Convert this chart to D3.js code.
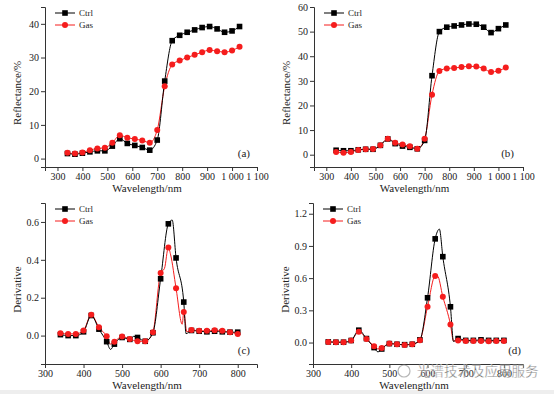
<!DOCTYPE html>
<html>
<head>
<meta charset="utf-8">
<script src="https://cdn.jsdelivr.net/npm/d3@7"></script>
<style>
  body { margin: 0; background: #fff; }
  svg { display: block; }
  text { font-family: "Liberation Serif", "DejaVu Serif", serif; fill: #222; }
</style>
</head>
<body>
<div id="chart"></div>
<script>
// reflectance spectra, markers every 30 nm
const reflWave = [340, 370, 400, 430, 460, 490, 520, 550, 580, 610, 640, 670, 700, 730, 760, 790, 820, 850, 880, 910, 940, 970, 1000, 1030];
const reflCtrlA = [1.5, 1.3, 1.6, 2.0, 2.3, 2.3, 3.7, 5.9, 4.5, 3.9, 3.3, 2.5, 5.5, 23.0, 35.0, 36.6, 37.5, 38.2, 38.9, 39.2, 38.5, 37.5, 37.9, 39.2];
const reflGasA = [1.7, 1.5, 1.8, 2.5, 3.0, 3.2, 4.7, 6.9, 6.2, 5.8, 5.4, 4.7, 8.5, 21.5, 27.9, 29.1, 30.0, 30.8, 31.6, 32.2, 31.9, 31.6, 32.1, 33.2];
const reflCtrlB = [1.8, 1.6, 1.6, 2.0, 2.2, 2.2, 3.8, 6.4, 4.5, 3.5, 3.0, 2.4, 5.8, 32.1, 50.0, 51.8, 52.3, 52.7, 53.1, 53.0, 51.8, 49.6, 51.2, 52.7];
const reflGasB = [1.1, 0.8, 1.1, 1.9, 2.2, 2.3, 3.8, 6.5, 4.9, 4.1, 3.4, 2.4, 6.5, 24.4, 34.0, 35.0, 35.2, 35.6, 35.9, 35.8, 35.0, 33.6, 34.1, 35.4];

// first derivative, markers every 20 nm
const derivWave = [340, 360, 380, 400, 420, 440, 460, 480, 500, 520, 540, 560, 580, 600, 620, 640, 660, 680, 700, 720, 740, 760, 780, 800];
const derivCtrlC = [0.005, 0.0, 0.0, 0.02, 0.106, 0.034, -0.032, -0.045, -0.01, -0.02, -0.01, -0.03, 0.015, 0.30, 0.59, 0.41, 0.177, 0.027, 0.023, 0.02, 0.023, 0.02, 0.018, 0.018];
const derivGasC = [0.012, 0.009, 0.009, 0.027, 0.11, 0.044, -0.004, -0.032, -0.005, -0.018, -0.03, -0.03, 0.018, 0.33, 0.465, 0.25, 0.124, 0.03, 0.025, 0.025, 0.028, 0.025, 0.018, 0.009];
const derivCtrlD = [0.006, 0.003, 0.003, 0.019, 0.115, 0.037, -0.047, -0.06, -0.01, -0.016, -0.02, -0.016, 0.025, 0.417, 0.966, 0.80, 0.333, 0.037, 0.02, 0.02, 0.025, 0.02, 0.02, 0.02];
const derivGasD = [0.006, 0.003, 0.003, 0.019, 0.10, 0.034, -0.034, -0.05, -0.01, -0.016, -0.022, -0.016, 0.022, 0.333, 0.62, 0.427, 0.168, 0.02, 0.015, 0.015, 0.015, 0.012, 0.015, 0.015];

// line-only points between markers (peaks and dips of the traced curves)
const extraCtrlC = [[470, -0.073], [530, -0.004], [630, 0.61], [666, 0.01]];
const extraGasC = [[470, -0.045], [610, 0.355], [626, 0.426], [656, 0.06], [668, 0.02]];
const extraCtrlD = [[470, -0.087], [631, 1.057], [668, 0.01]];
const extraGasD = [[470, -0.06], [626, 0.62], [668, 0.015]];

const reflTicks = [300, 400, 500, 600, 700, 800, 900, 1000, 1100];
const derivTicks = [300, 400, 500, 600, 700, 800];

const W = 554, H = 394;
const red = "#f51d1d";

const svg = d3.select("#chart").append("svg")
  .attr("width", W)
  .attr("height", H);

svg.append("rect").attr("x", 0).attr("y", 390).attr("width", W).attr("height", 4).attr("fill", "#eeeeee");

function fmtWave(d) {
  return d >= 1000 ? String(d).replace(/^(\d)(\d{3})$/, "$1 $2") : String(d);
}

function merge(xs, ys, extra) {
  const pts = xs.map((x, i) => [x, ys[i]]).concat(extra || []);
  return pts.sort((a, b) => a[0] - b[0]);
}

function panel(cfg) {
  const x = d3.scaleLinear().domain(cfg.xDomain).range(cfg.xRange);
  const y = d3.scaleLinear().domain(cfg.yDomain).range(cfg.yRange);
  const g = svg.append("g");

  const xAxis = d3.axisBottom(x).tickValues(cfg.xTicks).tickSize(4).tickPadding(2).tickFormat(fmtWave);
  const yAxis = d3.axisLeft(y).tickValues(cfg.yTicks).tickSize(4).tickPadding(2).tickFormat(cfg.yFormat);

  g.append("g")
    .attr("transform", `translate(0,${cfg.yRange[0]})`)
    .call(xAxis)
    .call(a => a.selectAll("text").style("font-size", "10px").attr("fill", "#222"));
  g.append("g")
    .attr("transform", `translate(${cfg.xRange[0]},0)`)
    .call(yAxis)
    .call(a => a.selectAll("text").style("font-size", "10px").attr("fill", "#222"));
  g.selectAll(".domain, .tick line").attr("stroke", "#333");

  const line = d3.line().x(d => x(d[0])).y(d => y(d[1])).curve(d3.curveMonotoneX);

  // Gas first, Ctrl drawn on top
  g.append("path").datum(merge(cfg.wave, cfg.gas, cfg.gasExtra))
    .attr("d", line).attr("fill", "none").attr("stroke", red).attr("stroke-width", 1);
  g.append("path").datum(merge(cfg.wave, cfg.ctrl, cfg.ctrlExtra))
    .attr("d", line).attr("fill", "none").attr("stroke", "#000").attr("stroke-width", 1);

  g.selectAll(".sq").data(cfg.wave.map((w, i) => [w, cfg.ctrl[i]])).enter().append("rect")
    .attr("x", d => x(d[0]) - 2.8).attr("y", d => y(d[1]) - 2.8)
    .attr("width", 5.6).attr("height", 5.6).attr("fill", "#000");
  g.selectAll(".ci").data(cfg.wave.map((w, i) => [w, cfg.gas[i]])).enter().append("circle")
    .attr("cx", d => x(d[0])).attr("cy", d => y(d[1])).attr("r", 3).attr("fill", red);

  // legend
  const lx = cfg.xRange[0] + 10, ly = cfg.yRange[1] + 6;
  g.append("line").attr("x1", lx).attr("x2", lx + 20).attr("y1", ly).attr("y2", ly).attr("stroke", "#000");
  g.append("rect").attr("x", lx + 7.2).attr("y", ly - 2.8).attr("width", 5.6).attr("height", 5.6).attr("fill", "#000");
  g.append("text").attr("x", lx + 24).attr("y", ly + 3).style("font-size", "9px").text("Ctrl");
  g.append("line").attr("x1", lx).attr("x2", lx + 20).attr("y1", ly + 12).attr("y2", ly + 12).attr("stroke", red);
  g.append("circle").attr("cx", lx + 10).attr("cy", ly + 12).attr("r", 3).attr("fill", red);
  g.append("text").attr("x", lx + 24).attr("y", ly + 15).style("font-size", "9px").text("Gas");

  // titles
  const cx = (cfg.xRange[0] + cfg.xRange[1]) / 2 - 4;
  g.append("text").attr("x", cx).attr("y", cfg.yRange[0] + 25)
    .attr("text-anchor", "middle").style("font-size", "11px").text("Wavelength/nm");
  const cy = (cfg.yRange[0] + cfg.yRange[1]) / 2 + 6;
  g.append("text").attr("transform", `translate(${cfg.xRange[0] - 24},${cy}) rotate(-90)`)
    .attr("text-anchor", "middle").style("font-size", "11px").text(cfg.yLabel);

  g.append("text").attr("x", cfg.tagX).attr("y", cfg.yRange[0] - 10)
    .attr("text-anchor", "end").style("font-size", "11px").text(cfg.tag);
}

panel({
  wave: reflWave, ctrl: reflCtrlA, gas: reflGasA,
  xDomain: [250, 1100], xRange: [45, 257], yDomain: [-2.5, 45], yRange: [167, 7],
  xTicks: reflTicks, yTicks: [0, 10, 20, 30, 40], yFormat: d3.format("d"),
  yLabel: "Reflectance/%", tag: "(a)", tagX: 250
});
panel({
  wave: reflWave, ctrl: reflCtrlB, gas: reflGasB,
  xDomain: [250, 1100], xRange: [314, 523], yDomain: [-5, 60], yRange: [167, 7],
  xTicks: reflTicks, yTicks: [0, 10, 20, 30, 40, 50, 60], yFormat: d3.format("d"),
  yLabel: "Reflectance/%", tag: "(b)", tagX: 514
});
panel({
  wave: derivWave, ctrl: derivCtrlC, gas: derivGasC, ctrlExtra: extraCtrlC, gasExtra: extraGasC,
  xDomain: [300, 850], xRange: [45, 257], yDomain: [-0.15, 0.7], yRange: [364, 203],
  xTicks: derivTicks, yTicks: [0, 0.2, 0.4, 0.6], yFormat: d3.format(".1f"),
  yLabel: "Derivative", tag: "(c)", tagX: 250
});
panel({
  wave: derivWave, ctrl: derivCtrlD, gas: derivGasD, ctrlExtra: extraCtrlD, gasExtra: extraGasD,
  xDomain: [300, 850], xRange: [313, 523], yDomain: [-0.2, 1.3], yRange: [364, 203],
  xTicks: derivTicks, yTicks: [0, 0.3, 0.6, 0.9, 1.2], yFormat: d3.format(".1f"),
  yLabel: "Derivative", tag: "(d)", tagX: 521
});

// watermark (sits over the tick labels of panel d, as in the source image)
const wm = svg.append("g").attr("opacity", 0.7);
wm.append("circle").attr("cx", 404).attr("cy", 371).attr("r", 6).attr("fill", "none").attr("stroke", "#999").attr("stroke-width", 1.2);
wm.append("text").attr("x", 417).attr("y", 376).style("font-family", "'Noto Sans CJK SC', sans-serif")
  .style("font-size", "13.5px").attr("fill", "#999").attr("stroke", "#fff").attr("stroke-width", 0.4)
  .text("光谱技术及应用服务");
</script>
</body>
</html>
